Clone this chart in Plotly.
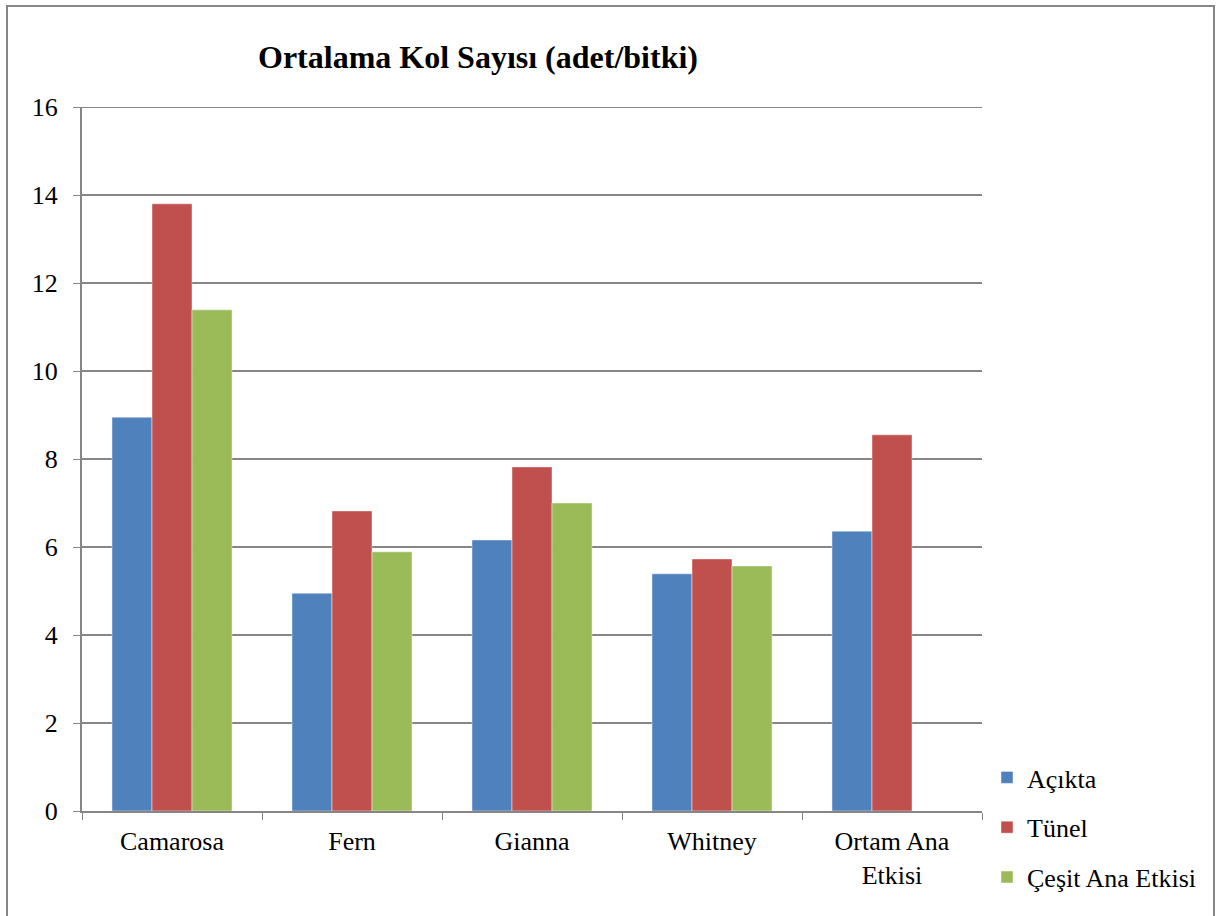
import plotly.graph_objects as go

categories = ["Camarosa", "Fern", "Gianna", "Whitney", "Ortam Ana<br>Etkisi"]
acikta = [8.95, 4.95, 6.16, 5.39, 6.36]
tunel = [13.8, 6.82, 7.82, 5.73, 8.55]
cesit = [11.39, 5.89, 7.0, 5.57, None]
series_names = ["Açıkta", "Tünel", "Çeşit Ana Etkisi"]
colors = ["#4F81BD", "#C0504D", "#9BBB59"]
y_ticks = [0, 2, 4, 6, 8, 10, 12, 14, 16]

W, H = 1216, 916
L, R, T, B = 82, 982, 107, 811

fig = go.Figure()
for i, (name, vals) in enumerate(zip(series_names, [acikta, tunel, cesit])):
    fig.add_trace(go.Bar(
        x=categories, y=vals, name=name, legendgroup=str(i),
        marker=dict(color=colors[i], line=dict(color="rgba(255,255,255,0.45)", width=1)),
    ))

def px_x(p):
    return (p - L) / (R - L)

def px_y(p):
    return (B - p) / (B - T)

font = "Liberation Serif"
fig.update_layout(
    width=W, height=H,
    margin=dict(l=L, r=W - R, t=T, b=H - B, autoexpand=False),
    paper_bgcolor="white", plot_bgcolor="white",
    barmode="group", bargap=0.333, bargroupgap=0,
    font=dict(family=font, size=26, color="black"),
    title=dict(text="<b>Ortalama Kol Sayısı (adet/bitki)</b>", x=478 / W, xanchor="center",
               y=1 - 57 / H, yanchor="middle", font=dict(size=32, family=font, color="black"),
               automargin=False),
    legend=dict(x=px_x(987), y=px_y(754), xanchor="left", yanchor="top",
                traceorder="grouped", tracegroupgap=13, font=dict(size=26, family=font),
                bgcolor="rgba(0,0,0,0)"),
    xaxis=dict(type="category", tickson="boundaries", ticks="outside", ticklen=7,
               tickcolor="#868686", showline=True, linecolor="#868686", linewidth=2,
               showgrid=False, tickfont=dict(size=26, family=font), ticklabelstandoff=6,
               automargin=False),
    yaxis=dict(range=[0, 16], tickvals=y_ticks, ticks="outside", ticklen=7,
               tickcolor="#868686", showline=True, linecolor="#868686", linewidth=2,
               showgrid=True, gridcolor="#868686", gridwidth=2, zeroline=False,
               tickfont=dict(size=26, family=font), ticklabelstandoff=10,
               automargin=False),
    shapes=[
        dict(type="rect", xref="paper", yref="paper",
             x0=px_x(7), x1=px_x(1214), y0=px_y(940), y1=px_y(6),
             line=dict(color="#868686", width=2), fillcolor="rgba(0,0,0,0)", layer="below"),
        dict(type="line", xref="paper", yref="y", x0=0, x1=1,
             y0=y_ticks[-1], y1=y_ticks[-1], line=dict(color="#868686", width=2), layer="below"),
    ],
)
fig.write_html("out.html")
